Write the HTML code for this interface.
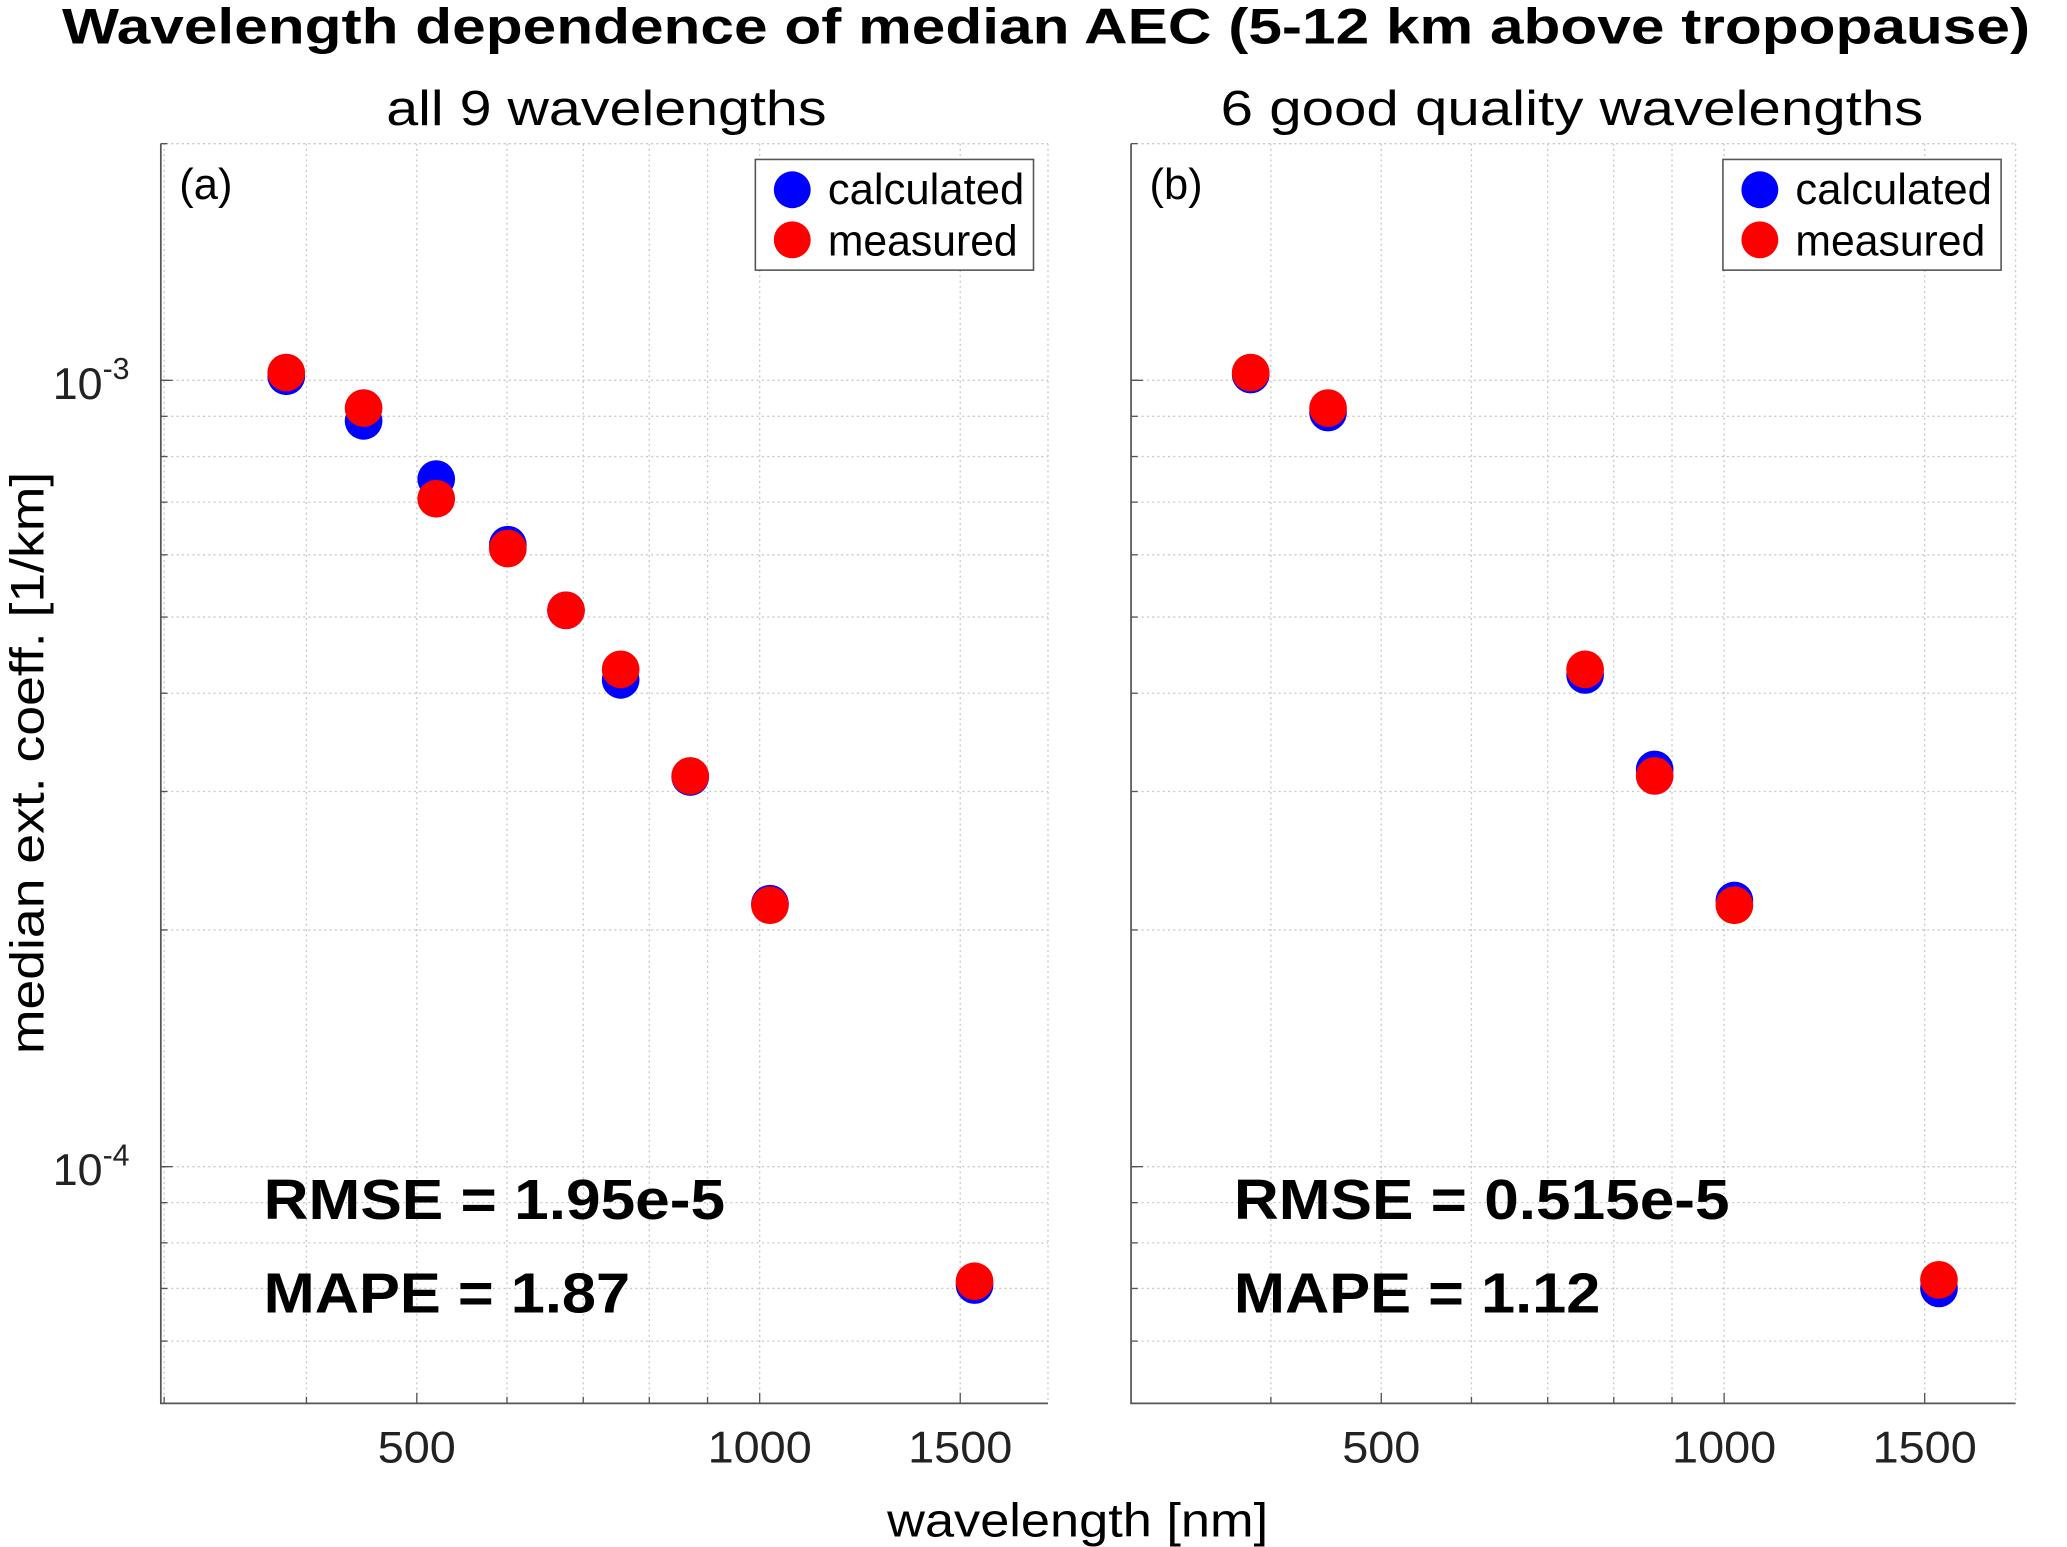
<!DOCTYPE html>
<html><head><meta charset="utf-8"><style>
html,body{margin:0;padding:0;background:#fff;}
svg{display:block;font-family:"Liberation Sans",Arial,sans-serif;}
</style></head><body>
<svg id="chart" width="2067" height="1547" viewBox="0 0 1568 1174" preserveAspectRatio="none" xmlns="http://www.w3.org/2000/svg">
<text x="47" y="33" font-size="38" font-weight="bold" textLength="1493" lengthAdjust="spacingAndGlyphs">Wavelength dependence of median AEC (5-12 km above tropopause)</text>
<text transform="translate(33,579) rotate(-90)" font-size="36" text-anchor="middle" textLength="442" lengthAdjust="spacingAndGlyphs">median ext. coeff. [1/km]</text>
<text x="673" y="1166" font-size="36" textLength="289" lengthAdjust="spacingAndGlyphs">wavelength [nm]</text>
<g id="pa"></g>
<g id="pb"></g>
</svg>
<script>
const wlA=[384,449,520,601,676,755,869,1021,1544];
const calcA=[1.012e-3,0.888e-3,0.749e-3,0.618e-3,0.510e-3,0.416e-3,0.313e-3,0.216e-3,0.707e-4];
const measA=[1.023e-3,0.922e-3,0.707e-3,0.611e-3,0.510e-3,0.429e-3,0.314e-3,0.215e-3,0.715e-4];
const wlB=[384,449,755,869,1021,1544];
const calcB=[1.017e-3,0.910e-3,0.422e-3,0.320e-3,0.218e-3,0.700e-4];
const measB=[1.023e-3,0.922e-3,0.429e-3,0.314e-3,0.215e-3,0.718e-4];
const xTickVals=[500,1000,1500];
const xTickLabels=["500","1000","1500"];
const yTickVals=[1e-3,1e-4];
const yTickExp=["-3","-4"];
const YMIN=5e-5,YMAX=2e-3,PXDEC=864;
const NS="http://www.w3.org/2000/svg";
function mk(p,t,a){const e=document.createElementNS(NS,t);for(const k in a)e.setAttribute(k,a[k]);p.appendChild(e);return e;}
function panel(g,L,R,T,B,XMIN,label,title,titleX,titleW,wl,calc,meas,rmse,rmseW,mape,mapeW){
  const sx=v=>L+(Math.log10(v)-Math.log10(XMIN))*PXDEC;
  const sy=v=>B-(Math.log10(v)-Math.log10(YMIN))/(Math.log10(YMAX)-Math.log10(YMIN))*(B-T);
  let t=mk(g,'text',{x:titleX,y:95,'font-size':37,textLength:titleW,lengthAdjust:'spacingAndGlyphs'});t.textContent=title;
  
  
  const xgAll=[300,400,500,600,700,800,900,1000,1500].filter(v=>sx(v)>=L&&sx(v)<=R);
  xgAll.forEach(v=>{const x=sx(v);const l=mk(g,'line',{x1:x,x2:x,y1:T,y2:B,stroke:'#c8c8c8','stroke-width':1,'stroke-dasharray':'1.5,2.5'});
    
    
    mk(g,'line',{x1:x,x2:x,y1:B,y2:B-(v==500||v==1000||v==1500?8:5),stroke:'#555','stroke-width':1});});
  mk(g,'line',{x1:R,x2:R,y1:T,y2:B,stroke:'#c8c8c8','stroke-width':1,'stroke-dasharray':'1.5,2.5'});
  mk(g,'line',{x1:L,x2:R,y1:T,y2:T,stroke:'#c8c8c8','stroke-width':1,'stroke-dasharray':'1.5,2.5'});
  const yg=[];for(let d=-5;d<=-3;d++)for(let m=1;m<=9;m++){const v=m*Math.pow(10,d);if(v>=YMIN&&v<=YMAX)yg.push(v);}
  yg.forEach(v=>{const y=sy(v);const l=mk(g,'line',{x1:L,x2:R,y1:y,y2:y,stroke:'#c8c8c8','stroke-width':1,'stroke-dasharray':'1.5,2.5'});
    
    
    mk(g,'line',{x1:L,x2:L+5,y1:y,y2:y,stroke:'#555','stroke-width':1});});
  const ax=mk(g,'path',{d:`M${L},${T}V${B}H${R}`,fill:'none',stroke:'#555','stroke-width':1.3});
  
  
  mk(g,'line',{x1:L,x2:L+9,y1:sy(1e-3),y2:sy(1e-3),stroke:'#555'});
  mk(g,'line',{x1:L,x2:L+9,y1:sy(1e-4),y2:sy(1e-4),stroke:'#555'});
  xTickVals.forEach((v,i)=>{const s=xTickLabels[i];const w=s.length*19.75;const tt=mk(g,'text',{x:sx(v)-w/2,y:B+45,'font-size':34,fill:'#222',textLength:w,lengthAdjust:'spacingAndGlyphs'});tt.textContent=s;
    
    });
  if(label==='(a)'){yTickVals.forEach((v,i)=>{const tt=mk(g,'text',{x:40,y:sy(v)+14,'font-size':34,fill:'#222'});
    tt.innerHTML=`10<tspan dy="-15" font-size="23">${yTickExp[i]}</tspan>`;
    
    });}
  t=mk(g,'text',{x:L+14,y:T+42,'font-size':33});t.textContent=label;
  
  
  wl.forEach((w,i)=>{const c=mk(g,'circle',{cx:sx(w),cy:sy(calc[i]),r:14.3,fill:'#0000ff'});
    
    });
  wl.forEach((w,i)=>{const c=mk(g,'circle',{cx:sx(w),cy:sy(meas[i]),r:14.3,fill:'#ff0000'});
    
    });
  const lg=mk(g,'g',{});
  
  
  mk(lg,'rect',{x:R-222,y:T+12,width:211,height:84,fill:'#fff',stroke:'#555','stroke-width':1.2});
  mk(lg,'circle',{cx:R-194,cy:T+35,r:14,fill:'#0000ff'});
  mk(lg,'circle',{cx:R-194,cy:T+73,r:14,fill:'#ff0000'});
  t=mk(lg,'text',{x:R-167,y:T+46,'font-size':33,textLength:149,lengthAdjust:'spacingAndGlyphs'});t.textContent='calculated';
  
  
  t=mk(lg,'text',{x:R-167,y:T+85,'font-size':33,textLength:144,lengthAdjust:'spacingAndGlyphs'});t.textContent='measured';
  
  
  t=mk(g,'text',{x:L+78,y:925,'font-size':43,'font-weight':'bold',textLength:rmseW,lengthAdjust:'spacingAndGlyphs'});t.textContent=rmse;
  
  
  t=mk(g,'text',{x:L+78,y:996,'font-size':43,'font-weight':'bold',textLength:mapeW,lengthAdjust:'spacingAndGlyphs'});t.textContent=mape;
  
  
}
panel(document.getElementById('pa'),122,795,109,1065,298,'(a)','all 9 wavelengths',293,334,wlA,calcA,measA,'RMSE = 1.95e-5',350,'MAPE = 1.87',278);
panel(document.getElementById('pb'),858,1529,109,1065,301.5,'(b)','6 good quality wavelengths',926,533,wlB,calcB,measB,'RMSE = 0.515e-5',376,'MAPE = 1.12',278);
</script>
</body></html>
